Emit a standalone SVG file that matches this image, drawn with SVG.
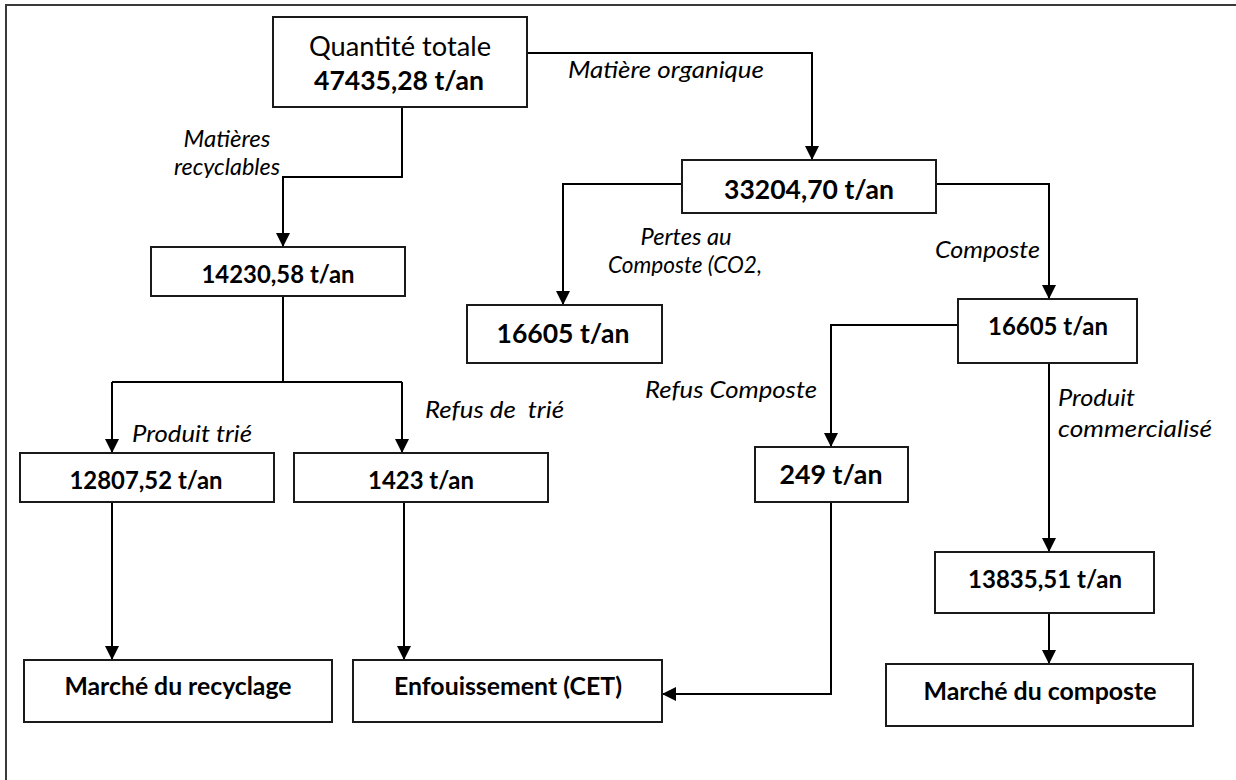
<svg xmlns="http://www.w3.org/2000/svg" width="1236" height="780" viewBox="0 0 1236 780">
<style>
.box{fill:#fff;stroke:#1a1a1a;stroke-width:2}
.frame{fill:none;stroke:#3a3a3a;stroke-width:2}
.con{fill:none;stroke:#000;stroke-width:2}
.b{font-family:Lato,"Open Sans",sans-serif;font-weight:bold;font-size:24px;fill:#000;text-anchor:middle}
.bl{font-size:26.4px}
.r{font-family:Lato,"Open Sans",sans-serif;font-size:26.4px;fill:#000;text-anchor:middle}
.i{font-family:Lato,"Open Sans",sans-serif;font-style:italic;font-size:23px;fill:#000}
.m{text-anchor:middle}
</style>
<defs>
<marker id="ah" markerUnits="userSpaceOnUse" markerWidth="14" markerHeight="14" refX="14" refY="7" orient="auto">
<path d="M0,0 L14,7 L0,14 z" fill="#000"/>
</marker>
<clipPath id="clipRec"><rect x="150" y="120" width="150" height="58"/></clipPath>
<clipPath id="clipCO2"><rect x="590" y="220" width="200" height="56"/></clipPath>
</defs>

<g id="frame">
<path class="frame" d="M6,780 L6,5 L1236,5"/>
</g>

<g id="connectors">
<path class="con" d="M527,53 L812,53 L812,160" marker-end="url(#ah)"/>
<path class="con" d="M402,107 L402,177 L283,177 L283,247" marker-end="url(#ah)"/>
<path class="con" d="M682,184 L563,184 L563,305" marker-end="url(#ah)"/>
<path class="con" d="M936,184 L1049,184 L1049,299" marker-end="url(#ah)"/>
<path class="con" d="M283,296 L283,382"/>
<path class="con" d="M112,382 L402,382"/>
<path class="con" d="M112,382 L112,453" marker-end="url(#ah)"/>
<path class="con" d="M402,382 L402,453" marker-end="url(#ah)"/>
<path class="con" d="M958,325 L831,325 L831,447" marker-end="url(#ah)"/>
<path class="con" d="M1049,363 L1049,552" marker-end="url(#ah)"/>
<path class="con" d="M1049,613 L1049,664" marker-end="url(#ah)"/>
<path class="con" d="M112,502 L112,660" marker-end="url(#ah)"/>
<path class="con" d="M404,502 L404,660" marker-end="url(#ah)"/>
<path class="con" d="M831,502 L831,694 L662,694" marker-end="url(#ah)"/>
</g>

<g id="labels">
<text class="i" x="568" y="78" textLength="196" lengthAdjust="spacingAndGlyphs">Matière organique</text>
<text class="i m" x="227" y="147" textLength="87" lengthAdjust="spacingAndGlyphs">Matières</text>
<g clip-path="url(#clipRec)"><text class="i m" x="227" y="175" textLength="106" lengthAdjust="spacingAndGlyphs">recyclables</text></g>
<text class="i m" x="686" y="245" textLength="91" lengthAdjust="spacingAndGlyphs">Pertes au</text>
<g clip-path="url(#clipCO2)"><text class="i m" x="685" y="273" textLength="154" lengthAdjust="spacingAndGlyphs">Composte (CO2,</text></g>
<text class="i" x="935" y="258" textLength="105" lengthAdjust="spacingAndGlyphs">Composte</text>
<text class="i" x="645" y="398" textLength="172" lengthAdjust="spacingAndGlyphs">Refus Composte</text>
<text class="i" x="1058" y="406" textLength="77" lengthAdjust="spacingAndGlyphs">Produit</text>
<text class="i" x="1058" y="437" textLength="154" lengthAdjust="spacingAndGlyphs">commercialisé</text>
<text class="i" x="132" y="442" textLength="120" lengthAdjust="spacingAndGlyphs">Produit trié</text>
<text class="i" x="425" y="418" textLength="139" lengthAdjust="spacingAndGlyphs" xml:space="preserve">Refus de  trié</text>
</g>

<g id="n-total">
<rect class="box" x="273" y="17" width="254" height="90"/>
<text class="r" x="400" y="56" textLength="182" lengthAdjust="spacingAndGlyphs">Quantité totale</text>
<text class="b bl" x="399" y="90" textLength="170" lengthAdjust="spacingAndGlyphs">47435,28 t/an</text>
</g>

<g id="n-organique">
<rect class="box" x="682" y="160" width="254" height="53"/>
<text class="b bl" x="809" y="199" textLength="170" lengthAdjust="spacingAndGlyphs">33204,70 t/an</text>
</g>

<g id="n-recyclables">
<rect class="box" x="151" y="247" width="254" height="49"/>
<text class="b" x="278" y="283" textLength="153" lengthAdjust="spacingAndGlyphs">14230,58 t/an</text>
</g>

<g id="n-pertes">
<rect class="box" x="467" y="305" width="195" height="58"/>
<text class="b bl" x="563" y="343" textLength="133" lengthAdjust="spacingAndGlyphs">16605 t/an</text>
</g>

<g id="n-composte">
<rect class="box" x="958" y="299" width="179" height="64"/>
<text class="b" x="1048" y="335" textLength="120" lengthAdjust="spacingAndGlyphs">16605 t/an</text>
</g>

<g id="n-trie">
<rect class="box" x="20" y="453" width="254" height="49"/>
<text class="b" x="146" y="489" textLength="153" lengthAdjust="spacingAndGlyphs">12807,52 t/an</text>
</g>

<g id="n-refus-trie">
<rect class="box" x="294" y="453" width="254" height="49"/>
<text class="b" x="421" y="489" textLength="106" lengthAdjust="spacingAndGlyphs">1423 t/an</text>
</g>

<g id="n-refus-composte">
<rect class="box" x="755" y="447" width="153" height="55"/>
<text class="b bl" x="831" y="484" textLength="103" lengthAdjust="spacingAndGlyphs">249 t/an</text>
</g>

<g id="n-commercialise">
<rect class="box" x="935" y="552" width="219" height="61"/>
<text class="b" x="1045" y="588" textLength="154" lengthAdjust="spacingAndGlyphs">13835,51 t/an</text>
</g>

<g id="n-marche-recyclage">
<rect class="box" x="24" y="660" width="308" height="62"/>
<text class="b" x="178" y="695" textLength="227" lengthAdjust="spacingAndGlyphs">Marché du recyclage</text>
</g>

<g id="n-enfouissement">
<rect class="box" x="353" y="660" width="309" height="62"/>
<text class="b" x="508" y="695" textLength="228" lengthAdjust="spacingAndGlyphs">Enfouissement (CET)</text>
</g>

<g id="n-marche-composte">
<rect class="box" x="886" y="664" width="307" height="62"/>
<text class="b" x="1040" y="700" textLength="233" lengthAdjust="spacingAndGlyphs">Marché du composte</text>
</g>
</svg>
